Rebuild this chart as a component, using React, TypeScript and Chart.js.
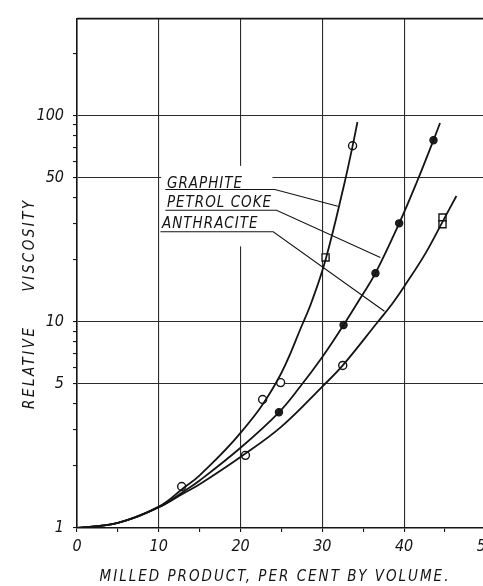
import React, { useEffect, useRef } from "react";
import { Chart, registerables } from "chart.js";

Chart.register(...registerables);

// ---- data ----
const graphiteCurveX = [0, 5, 10, 13, 15, 20, 24.4, 27.7, 28.7, 30.4, 32.6, 33.7, 34.3];
const graphiteCurveY = [1, 1.06, 1.27, 1.56, 1.8, 2.89, 5.1, 10, 12.5, 20, 45, 71, 93];
const graphitePointsX = [12.8, 22.7, 24.9, 30.4, 33.7];
const graphitePointsY = [1.59, 4.2, 5.07, 20.5, 71.3];
const graphitePointStyles = ["circle", "circle", "circle", "rect", "circle"];
const graphitePointSizes = [4, 4, 4, 5, 4];

const cokeCurveX = [0, 5, 10, 13, 15, 20, 24.7, 27.3, 30, 32.6, 34.8, 36.5, 39.4, 41.6, 43.6, 44.4];
const cokeCurveY = [1, 1.06, 1.26, 1.5, 1.7, 2.45, 3.64, 4.85, 6.75, 9.64, 13.3, 17.2, 30, 48, 76, 92];
const cokePointsX = [24.7, 32.6, 36.5, 39.4, 43.6];
const cokePointsY = [3.64, 9.64, 17.2, 30, 75.9];

const anthraciteCurveX = [0, 5, 10, 13, 15, 20, 25, 30, 32.5, 36.8, 38.6, 40, 42.6, 44.7, 46.4];
const anthraciteCurveY = [1, 1.06, 1.26, 1.47, 1.63, 2.21, 3.1, 4.85, 6.14, 10, 12.3, 14.8, 21.4, 30.5, 40.7];
const anthracitePointsX = [20.6, 32.5, 44.7, 44.7];
const anthracitePointsY = [2.25, 6.14, 32, 29.7];
const anthracitePointStyles = ["circle", "circle", "rect", "rect"];
const anthracitePointSizes = [4, 4, 5, 5];

const xTicks = [0, 5, 10, 15, 20, 25, 30, 35, 40, 45, 50];
const xLabelled = [0, 10, 20, 30, 40, 50];
const xGrid = [10, 20, 30, 40];
const yTicks = [1, 2, 3, 4, 5, 6, 7, 8, 9, 10, 20, 30, 40, 50, 60, 70, 80, 90, 100, 200];
const yLabelled = [1, 5, 10, 50, 100];
const yGrid = [5, 10, 50, 100];

const seriesNames = ["GRAPHITE", "PETROL COKE", "ANTHRACITE"];
// label anchor (text left, baseline), underline end, leader end — in data units
const labelX = [11.0, 11.0, 10.4];
const labelY = [44.7, 35.9, 28.5];
const underlineY = [43.8, 34.7, 27.3];
const underlineEndX = [24.2, 24.4, 24.0];
const leaderEndX = [31.9, 37.1, 37.6];
const leaderEndY = [36.3, 20.5, 11.25];

const xTitle = "MILLED PRODUCT, PER CENT BY VOLUME.";
const yTitle = "RELATIVE     VISCOSITY";

const FONT = '"Liberation Sans Narrow","DejaVu Sans Condensed","DejaVu Sans",sans-serif';
const INK = "#141414";

const zip = (xs: number[], ys: number[]) => xs.map((x, i) => ({ x, y: ys[i] }));

export default function App() {
  const ref = useRef<HTMLCanvasElement | null>(null);
  useEffect(() => {
    document.body.style.margin = "0";
    document.body.style.overflow = "hidden";
    document.documentElement.style.overflow = "hidden";
    const canvas = ref.current!;

    const decor = {
      id: "decor",
      beforeDatasetsDraw(chart: any) {
        const { ctx, chartArea, scales } = chart;
        const xs = scales.x, ys = scales.y;
        ctx.save();
        // gap in grid behind the labels
        const l = xs.getPixelForValue(10.3), r = xs.getPixelForValue(23.9);
        const t = ys.getPixelForValue(57), b = ys.getPixelForValue(23.2);
        ctx.fillStyle = "#fff";
        ctx.fillRect(l, t, r - l, b - t);
        // top border
        ctx.strokeStyle = INK;
        ctx.lineWidth = 1.6;
        ctx.beginPath();
        ctx.moveTo(chartArea.left, chartArea.top);
        ctx.lineTo(chartArea.right + 20, chartArea.top);
        ctx.stroke();
        ctx.restore();
      },
      afterDatasetsDraw(chart: any) {
        const { ctx, chartArea, scales } = chart;
        const xs = scales.x, ys = scales.y;
        ctx.save();
        ctx.fillStyle = INK;
        ctx.strokeStyle = INK;
        ctx.lineWidth = 1.1;
        ctx.font = `italic 15px ${FONT}`;
        ctx.textBaseline = "alphabetic";
        ctx.textAlign = "left";
        (ctx as any).letterSpacing = "1px";
        seriesNames.forEach((name, i) => {
          const px = xs.getPixelForValue(labelX[i]);
          const py = ys.getPixelForValue(labelY[i]);
          ctx.fillText(name, px, py);
          const uy = ys.getPixelForValue(underlineY[i]);
          ctx.beginPath();
          ctx.moveTo(xs.getPixelForValue(labelX[i] - 0.2), uy);
          ctx.lineTo(xs.getPixelForValue(underlineEndX[i]), uy);
          ctx.lineTo(xs.getPixelForValue(leaderEndX[i]), ys.getPixelForValue(leaderEndY[i]));
          ctx.stroke();
        });
        // axis titles
        ctx.textAlign = "center";
        ctx.textBaseline = "middle";
        (ctx as any).letterSpacing = "2px";
        ctx.font = `italic 15px ${FONT}`;
        ctx.fillText(xTitle, chartArea.left + 198, chartArea.bottom + 49);
        (ctx as any).letterSpacing = "2.5px";
        ctx.translate(30, chartArea.top + 285);
        ctx.rotate(-Math.PI / 2);
        ctx.fillText(yTitle, 0, 0);
        ctx.restore();
      },
    };

    const curveStyle = {
      showLine: true,
      borderColor: INK,
      borderWidth: 1.8,
      pointRadius: 0,
      tension: 0.4,
      fill: false,
    };

    const chart = new Chart(canvas, {
      type: "scatter",
      data: {
        datasets: [
          { label: "GRAPHITE curve", data: zip(graphiteCurveX, graphiteCurveY), ...curveStyle },
          { label: "PETROL COKE curve", data: zip(cokeCurveX, cokeCurveY), ...curveStyle },
          { label: "ANTHRACITE curve", data: zip(anthraciteCurveX, anthraciteCurveY), ...curveStyle },
          {
            label: "GRAPHITE",
            data: zip(graphitePointsX, graphitePointsY),
            showLine: false,
            pointStyle: graphitePointStyles as any,
            pointRadius: graphitePointSizes,
            pointBackgroundColor: "#fff",
            pointBorderColor: INK,
            pointBorderWidth: 1.4,
          },
          {
            label: "PETROL COKE",
            data: zip(cokePointsX, cokePointsY),
            showLine: false,
            pointStyle: "circle",
            pointRadius: 3.6,
            pointBackgroundColor: "#222",
            pointBorderColor: INK,
            pointBorderWidth: 1.2,
          },
          {
            label: "ANTHRACITE",
            data: zip(anthracitePointsX, anthracitePointsY),
            showLine: false,
            pointStyle: anthracitePointStyles as any,
            pointRadius: anthracitePointSizes,
            pointBackgroundColor: "#fff",
            pointBorderColor: INK,
            pointBorderWidth: 1.4,
          },
        ],
      },
      options: {
        responsive: false,
        animation: false,
        devicePixelRatio: 1,
        layout: { padding: { top: 12, right: 10.5, left: 0, bottom: 0 } },
        plugins: { legend: { display: false }, tooltip: { enabled: false } },
        scales: {
          x: {
            type: "linear",
            min: 0,
            max: 50,
            afterBuildTicks: (s: any) => {
              s.ticks = xTicks.map((v) => ({ value: v }));
            },
            afterFit: (s: any) => {
              s.height = 58;
            },
            ticks: {
              autoSkip: false,
              maxRotation: 0,
              padding: 5,
              color: INK,
              font: { family: FONT, size: 16, style: "italic" },
              callback: (v: any) => (xLabelled.includes(Number(v)) ? String(v) : ""),
            },
            grid: {
              color: (c: any) => (xGrid.includes(c.tick?.value) ? "#2b2b2b" : "rgba(0,0,0,0)"),
              lineWidth: 1.1,
              tickLength: 4,
              tickColor: INK,
              drawTicks: true,
            },
            border: { color: INK, width: 1.6 },
          },
          y: {
            type: "logarithmic",
            min: 1,
            max: 295,
            afterBuildTicks: (s: any) => {
              s.ticks = yTicks.map((v) => ({ value: v }));
            },
            afterFit: (s: any) => {
              s.width = 77;
            },
            ticks: {
              autoSkip: false,
              padding: 9,
              color: INK,
              font: { family: FONT, size: 16, style: "italic" },
              callback: (v: any) => (yLabelled.includes(Number(v)) ? String(v) : ""),
            },
            grid: {
              color: (c: any) => (yGrid.includes(c.tick?.value) ? "#2b2b2b" : "rgba(0,0,0,0)"),
              lineWidth: 1.1,
              tickLength: 4,
              tickColor: INK,
              drawTicks: true,
            },
            border: { color: INK, width: 1.6 },
          },
        },
      },
      plugins: [decor],
    });
    return () => chart.destroy();
  }, []);
  return <canvas ref={ref} width={500} height={586} style={{ display: "block" }} />;
}
